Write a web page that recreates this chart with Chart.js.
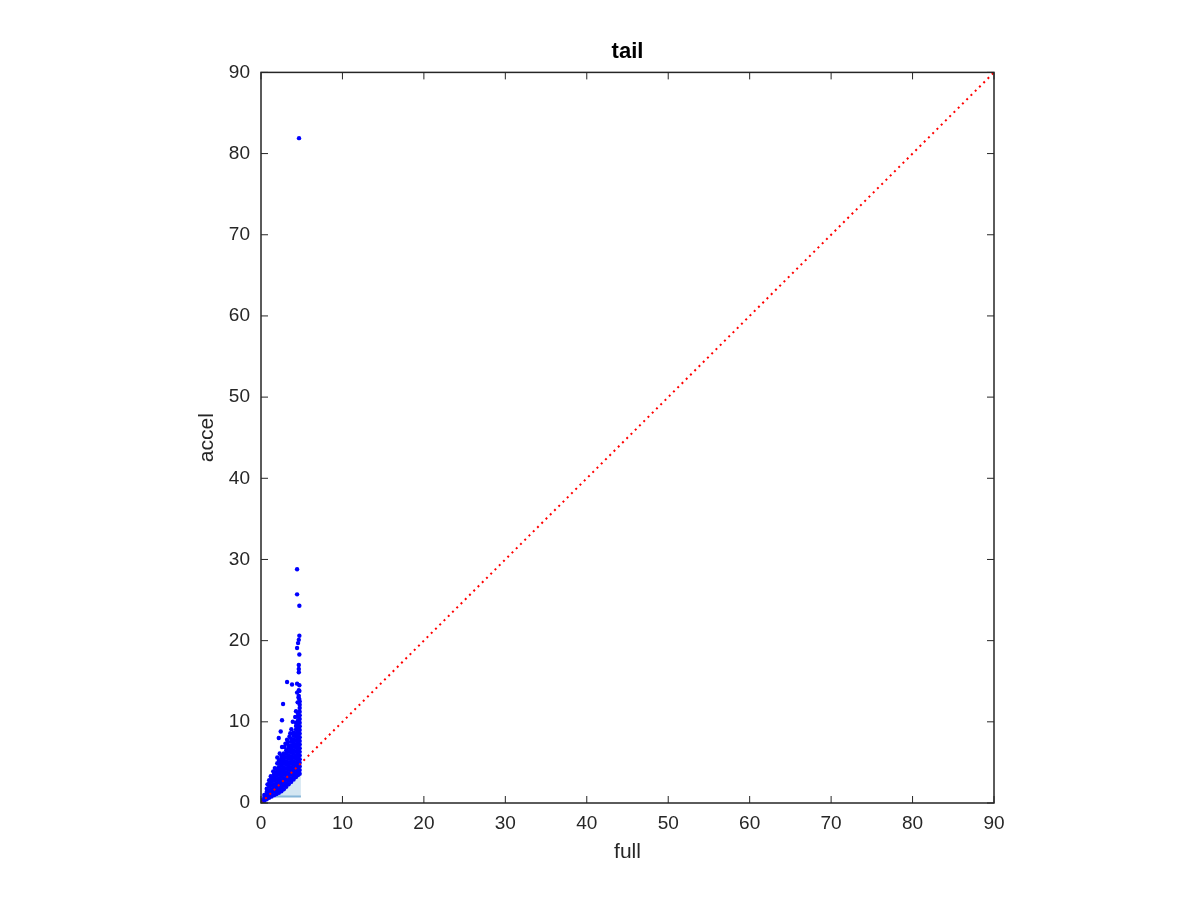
<!DOCTYPE html>
<html>
<head>
<meta charset="utf-8">
<script src="https://cdn.jsdelivr.net/npm/chart.js@4/dist/chart.umd.min.js"></script>
<style>
  body { margin: 0; background: #fff; }
  canvas { display: block; }
</style>
</head>
<body>
<canvas id="chart" width="1200" height="900"></canvas>
<script>
// axis ticks
var tickValues = [0, 10, 20, 30, 40, 50, 60, 70, 80, 90];

// dense part of the cloud, one column of accel values per full value
var coreCols = [
  [0.1,  [0.1, 0.35]],
  [0.4,  [0.25, 0.65, 1.0]],
  [0.7,  [0.45, 0.9, 1.35, 1.75]],
  [1.0,  [0.65, 1.1, 1.55, 2.0, 2.4]],
  [1.3,  [0.8, 1.25, 1.7, 2.15, 2.6, 3.0]],
  [1.6,  [0.95, 1.4, 1.85, 2.3, 2.75, 3.2, 3.55]],
  [1.9,  [1.1, 1.55, 2.0, 2.45, 2.9, 3.35, 3.8, 4.2]],
  [2.2,  [1.25, 1.7, 2.15, 2.6, 3.05, 3.5, 3.95, 4.4, 4.85, 5.2]],
  [2.5,  [1.45, 1.9, 2.35, 2.8, 3.25, 3.7, 4.15, 4.6, 5.05, 5.5, 5.8]],
  [2.8,  [1.7, 2.15, 2.6, 3.05, 3.5, 3.95, 4.4, 4.85, 5.3, 5.75, 6.1]],
  [3.1,  [2.0, 2.45, 2.9, 3.35, 3.8, 4.25, 4.7, 5.15, 5.6, 6.05, 6.5]],
  [3.4,  [2.3, 2.75, 3.2, 3.65, 4.1, 4.55, 5.0, 5.45, 5.9, 6.35, 6.8, 7.1]],
  [3.7,  [2.6, 3.05, 3.5, 3.95, 4.4, 4.85, 5.3, 5.75, 6.2, 6.65, 7.1, 7.55, 7.9]],
  [4.0,  [2.9, 3.35, 3.8, 4.25, 4.7, 5.15, 5.6, 6.05, 6.5, 6.95, 7.4, 7.85, 8.3, 8.7]],
  [4.3,  [3.2, 3.65, 4.1, 4.55, 5.0, 5.45, 5.9, 6.35, 6.8, 7.25, 7.7, 8.15, 8.6, 9.05, 9.5, 9.9]],
  [4.55, [3.45, 3.9, 4.35, 4.8, 5.25, 5.7, 6.15, 6.6, 7.05, 7.5, 7.95, 8.4, 8.85, 9.3, 9.75, 10.2, 10.65, 11.0]],
  [4.75, [3.6, 4.05, 4.5, 4.95, 5.4, 5.85, 6.3, 6.75, 7.2, 7.65, 8.1, 8.55, 9.0, 9.45, 9.9, 10.35, 10.8, 11.25, 11.7, 12.1, 12.5]]
];

// scattered points above the dense part
var looseFull  = [4.43, 4.43, 4.71, 4.71, 4.64, 4.55, 4.43, 4.71, 4.64, 4.64, 4.64, 3.2, 3.81, 4.43, 4.71, 4.64, 4.43, 4.71, 4.64, 2.71, 2.58, 2.42, 2.18, 3.2, 2.58, 3.73, 4.67, 4.6, 4.7, 4.5, 4.3, 4.2, 3.9, 3.5, 3.0, 2.0, 2.3, 1.7, 1.2, 0.8, 1.5, 2.0, 2.9, 3.3, 3.6, 1.0];
var looseAccel = [28.8, 25.7, 24.3, 20.6, 20.1, 19.7, 19.1, 18.3, 17.0, 16.5, 16.1, 14.9, 14.6, 14.7, 14.5, 13.9, 13.6, 13.8, 13.2, 12.2, 10.2, 8.8, 8.0, 7.8, 6.9, 9.1, 81.9, 13.0, 12.8, 12.4, 11.3, 10.6, 10.0, 8.2, 7.3, 5.6, 6.1, 4.3, 3.3, 2.3, 3.9, 4.9, 6.9, 7.5, 8.6, 2.8];

// shaded band under the cloud
var bandFull = [1.7, 4.9];
var bandTop = 4.7;
var bandBottom = 0.8;

// reference line full = accel
var diagFull = [0, 90];

var points = [];
coreCols.forEach(function(col) {
  col[1].forEach(function(a) { points.push({ x: col[0], y: a }); });
});
looseFull.forEach(function(f, i) { points.push({ x: f, y: looseAccel[i] }); });

var axisColor = '#262626';
var font = 'Liberation Sans, Arial, Helvetica, sans-serif';

// matlab style ticks pointing inwards on all four sides plus box
var boxTicks = {
  id: 'boxTicks',
  afterDraw: function(chart) {
    var ctx = chart.ctx, a = chart.chartArea;
    var xs = chart.scales.x, ys = chart.scales.y;
    var len = 7;
    ctx.save();
    ctx.strokeStyle = axisColor;
    ctx.lineWidth = 1.5;
    ctx.strokeRect(a.left, a.top, a.right - a.left, a.bottom - a.top);
    ctx.lineWidth = 1;
    ctx.beginPath();
    tickValues.forEach(function(v) {
      var px = xs.getPixelForValue(v);
      ctx.moveTo(px, a.bottom); ctx.lineTo(px, a.bottom - len);
      ctx.moveTo(px, a.top); ctx.lineTo(px, a.top + len);
      var py = ys.getPixelForValue(v);
      ctx.moveTo(a.left, py); ctx.lineTo(a.left + len, py);
      ctx.moveTo(a.right, py); ctx.lineTo(a.right - len, py);
    });
    ctx.stroke();
    ctx.restore();
  }
};

new Chart(document.getElementById('chart'), {
  type: 'scatter',
  data: {
    datasets: [
      {
        label: 'diag',
        data: diagFull.map(function(v) { return { x: v, y: v }; }),
        showLine: true,
        borderColor: '#ff0000',
        borderWidth: 2,
        borderDash: [2, 4],
        pointRadius: 0,
        order: 0
      },
      {
        label: 'points',
        data: points,
        backgroundColor: '#0000ff',
        borderColor: '#0000ff',
        borderWidth: 0,
        pointRadius: 2.2,
        order: 1
      },
      {
        label: 'band edge',
        data: bandFull.map(function(v) { return { x: v, y: bandBottom }; }),
        showLine: true,
        borderColor: '#86b6d8',
        borderWidth: 2,
        pointRadius: 0,
        order: 2
      },
      {
        label: 'band',
        data: bandFull.map(function(v) { return { x: v, y: bandTop }; }),
        showLine: true,
        borderWidth: 0,
        borderColor: 'rgba(0,0,0,0)',
        backgroundColor: '#d3e6f2',
        fill: { value: bandBottom },
        pointRadius: 0,
        order: 3
      }
    ]
  },
  options: {
    responsive: false,
    animation: false,
    layout: {
      padding: { left: 180, right: 206, top: 0, bottom: 27 }
    },
    scales: {
      x: {
        type: 'linear',
        min: 0,
        max: 90,
        afterBuildTicks: function(scale) {
          scale.ticks = tickValues.map(function(v) { return { value: v }; });
        },
        afterFit: function(scale) { scale.height = 70; },
        grid: { display: false, drawTicks: false },
        border: { display: false },
        ticks: { color: axisColor, padding: 9, font: { family: font, size: 19 } },
        title: {
          display: true,
          text: 'full',
          color: axisColor,
          padding: { top: 0, bottom: 8 },
          font: { family: font, size: 21 }
        }
      },
      y: {
        type: 'linear',
        min: 0,
        max: 90,
        afterBuildTicks: function(scale) {
          scale.ticks = tickValues.map(function(v) { return { value: v }; });
        },
        afterFit: function(scale) { scale.width = 81; },
        grid: { display: false, drawTicks: false },
        border: { display: false },
        ticks: { color: axisColor, padding: 11, font: { family: font, size: 19 } },
        title: {
          display: true,
          text: 'accel',
          color: axisColor,
          padding: { top: 15, bottom: 0 },
          font: { family: font, size: 21 }
        }
      }
    },
    plugins: {
      legend: { display: false },
      tooltip: { enabled: false },
      title: {
        display: true,
        text: 'tail',
        fullSize: false,
        color: '#000',
        padding: { top: 39, bottom: 7 },
        font: { family: font, size: 22, weight: 'bold' }
      }
    }
  },
  plugins: [boxTicks]
});
</script>
</body>
</html>
